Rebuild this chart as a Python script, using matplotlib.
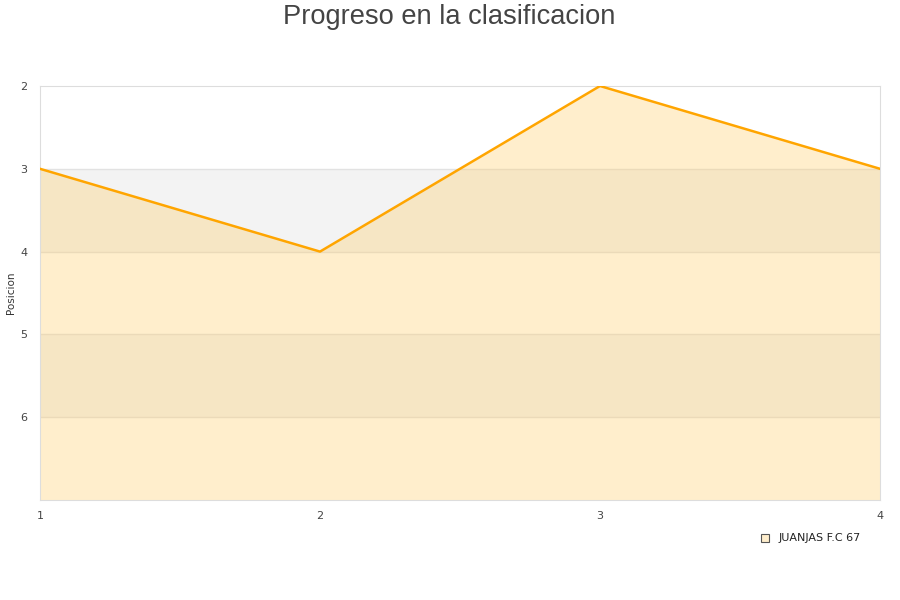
import matplotlib
matplotlib.use("Agg")
import matplotlib.pyplot as plt
from matplotlib.patches import Rectangle

jornadas = [1, 2, 3, 4]
posiciones = [3, 4, 2, 3]
team = "JUANJAS F.C 67"
y_ticks = [2, 3, 4, 5, 6]
y_min, y_max = 2, 7

fig = plt.figure(figsize=(9, 6), dpi=100)
ax = fig.add_axes([40/900, 1-500/600, 840/900, 414/600])

# alternating bands
for lo in range(y_min, y_max):
    if lo % 2 == 1:
        ax.axhspan(lo, lo+1, color="#f3f3f3", zorder=0, lw=0)
for g in range(y_min+1, y_max):
    ax.axhline(g, color="#e2e2e2", lw=1, zorder=1)

ax.fill_between(jornadas, posiciones, y_max, color="#ffcc66", alpha=0.33, lw=0, zorder=2)
ax.plot(jornadas, posiciones, color="#ffa500", lw=1.8, zorder=3)

ax.set_xlim(1, 4)
ax.set_ylim(y_max, y_min)
ax.set_xticks(jornadas)
ax.set_yticks(y_ticks)
ax.tick_params(length=0, labelsize=8, colors="#444444")
ax.tick_params(axis="y", pad=9)
ax.tick_params(axis="x", pad=8)
for s in ax.spines.values():
    s.set_color("#dddddd")

fig.text(11/900, 1-293/600, "Posicion", rotation=90, ha="center", va="center",
         fontsize=7.5, color="#333333")

fig.text(449/900, 1-17/600, "Progreso en la clasificacion", ha="center", va="center",
         fontsize=19.6, color="#444444", family="Liberation Sans")

fig.patches.append(Rectangle((761/900, 1-542/600), 8/900, 8/600, transform=fig.transFigure,
                             facecolor="#ffeecc", edgecolor="#555555", lw=0.8))
fig.text(779/900, 1-538/600, team, ha="left", va="center", fontsize=8, color="#222222")

fig.savefig("out.png", dpi=100)
